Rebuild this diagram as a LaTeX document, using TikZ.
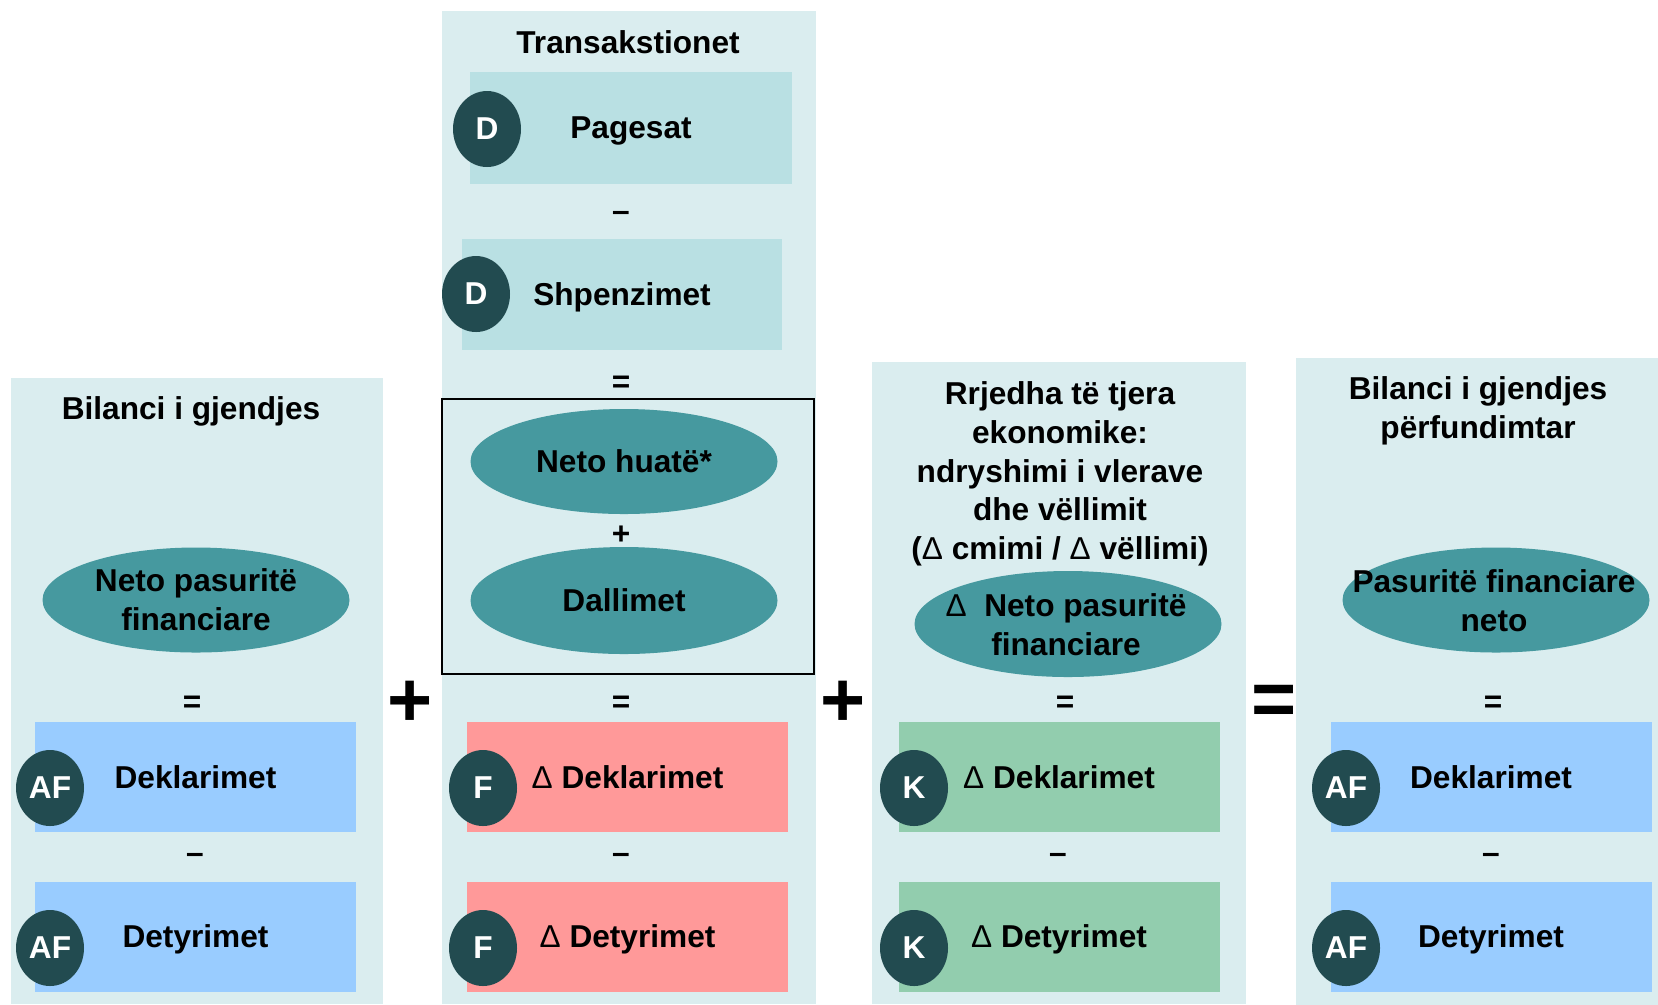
\documentclass[tikz,border=0pt]{standalone}
\usepackage{fontspec}
\setmainfont{Liberation Sans}
\usepackage{tikz}
\usetikzlibrary{shapes.geometric}
\definecolor{col_bg}{RGB}{218,237,239}
\definecolor{box_teal}{RGB}{185,224,227}
\definecolor{oval_teal}{RGB}{70,153,159}
\definecolor{token_dark}{RGB}{34,75,80}
\definecolor{box_blue}{RGB}{153,204,255}
\definecolor{box_red}{RGB}{255,153,153}
\definecolor{box_green}{RGB}{146,205,174}
\newcommand{\deltasym}{{\mdseries Δ}}

\begin{document}
\begin{tikzpicture}[font=\bfseries\fontsize{9}{11}\selectfont]
    \tikzstyle{column}=[fill=col_bg, inner sep=0pt]
    \tikzstyle{entry}=[rectangle, minimum width=3.21cm, minimum height=1.10cm, inner sep=0pt, text depth=0pt]
    \tikzstyle{oval}=[ellipse, fill=oval_teal, minimum width=3.07cm, minimum height=1.05cm, inner sep=0pt, align=center]
    \tikzstyle{token}=[ellipse, fill=token_dark, minimum width=0.68cm, minimum height=0.76cm, inner sep=0pt, text=white]
    \tikzstyle{op}=[inner sep=1pt]
    \tikzstyle{bigop}=[inner sep=1pt, font=\bfseries\fontsize{22}{22}\selectfont]
    \useasboundingbox (0,0) rectangle (16.58,-10.04);

    % columns
    \node[column, minimum width=3.72cm, minimum height=6.26cm]  (colA) at (1.97,-6.91)  {};
    \node[column, minimum width=3.74cm, minimum height=9.93cm]  (colB) at (6.29,-5.07)  {};
    \node[column, minimum width=3.74cm, minimum height=6.42cm]  (colC) at (10.59,-6.83) {};
    \node[column, minimum width=3.62cm, minimum height=6.47cm]  (colD) at (14.77,-6.81) {};

    % opening balance
    \node (tA) at (1.91,-4.11) {Bilanci i gjendjes};
    \node[oval] (nA) at (1.96,-6.00) {Neto pasuritë\\financiare};
    \node[op] (eqA) at (1.92,-7.04) {=};
    \node[entry, fill=box_blue] (dA) at (1.955,-7.77)  {Deklarimet};
    \node[op] (miA) at (1.95,-8.58) {–};
    \node[entry, fill=box_blue] (lA) at (1.955,-9.365) {Detyrimet};
    \node[token] (dAt) at (0.50,-7.88) {AF};
    \node[token] (lAt) at (0.50,-9.48) {AF};

    % transactions
    \node (tB) at (6.28,-0.42) {Transakstionet};
    \node[entry, fill=box_teal, minimum width=3.22cm, minimum height=1.12cm] (pag) at (6.31,-1.28)  {Pagesat};
    \node[op] (miB1) at (6.21,-2.16) {–};
    \node[entry, fill=box_teal, minimum width=3.20cm, minimum height=1.11cm] (shp) at (6.22,-2.945) {Shpenzimet};
    \node[token] (pagt) at (4.87,-1.29) {D};
    \node[token] (shpt) at (4.76,-2.94) {D};
    \node[op] (eqB1) at (6.21,-3.84) {=};
    \node[draw, semithick, minimum width=3.72cm, minimum height=2.75cm, inner sep=0pt] (hb) at (6.28,-5.365) {};
    \node[oval] (hua) at (6.24,-4.615) {Neto huatë*};
    \node[op] (plB) at (6.21,-5.35) {+};
    \node[oval, minimum height=1.07cm] (dal) at (6.24,-6.005) {Dallimet};
    \node[op] (eqB2) at (6.21,-7.04) {=};
    \node[entry, fill=box_red] (dB) at (6.275,-7.77)  {\deltasym{} Deklarimet};
    \node[op] (miB2) at (6.21,-8.58) {–};
    \node[entry, fill=box_red] (lB) at (6.275,-9.365) {\deltasym{} Detyrimet};
    \node[token] (dBt) at (4.83,-7.88) {F};
    \node[token] (lBt) at (4.83,-9.48) {F};

    % other flows
    \node[align=center] (tC) at (10.60,-4.74) {Rrjedha të tjera\\ekonomike:\\ndryshimi i vlerave\\dhe vëllimit\\(\deltasym{} cmimi / \deltasym{} vëllimi)};
    \node[oval, minimum height=1.06cm] (nC) at (10.68,-6.24) {};
    \node[align=center] (nCt) at (10.66,-6.25) {\deltasym{}\ \ Neto pasuritë\\financiare};
    \node[op] (eqC) at (10.65,-7.04) {=};
    \node[entry, fill=box_green] (dC) at (10.59,-7.77)  {\deltasym{} Deklarimet};
    \node[op] (miC) at (10.58,-8.58) {–};
    \node[entry, fill=box_green] (lC) at (10.59,-9.365) {\deltasym{} Detyrimet};
    \node[token] (dCt) at (9.14,-7.88) {K};
    \node[token] (lCt) at (9.14,-9.48) {K};

    % closing balance
    \node[align=center] (tD) at (14.78,-4.11) {Bilanci i gjendjes\\përfundimtar};
    \node[oval] (nD) at (14.96,-6.00) {};
    \node[align=center] (nDt) at (14.94,-6.01) {Pasuritë financiare\\neto};
    \node[op] (eqD) at (14.93,-7.04) {=};
    \node[entry, fill=box_blue] (dD) at (14.91,-7.77)  {Deklarimet};
    \node[op] (miD) at (14.91,-8.58) {–};
    \node[entry, fill=box_blue] (lD) at (14.91,-9.365) {Detyrimet};
    \node[token] (dDt) at (13.46,-7.88) {AF};
    \node[token] (lDt) at (13.46,-9.48) {AF};

    % signs between columns
    \node[bigop] (p1) at (4.10,-7.04)  {+};
    \node[bigop] (p2) at (8.43,-7.04)  {+};
    \node[bigop] (q1) at (12.74,-7.05) {=};
\end{tikzpicture}
\end{document}
